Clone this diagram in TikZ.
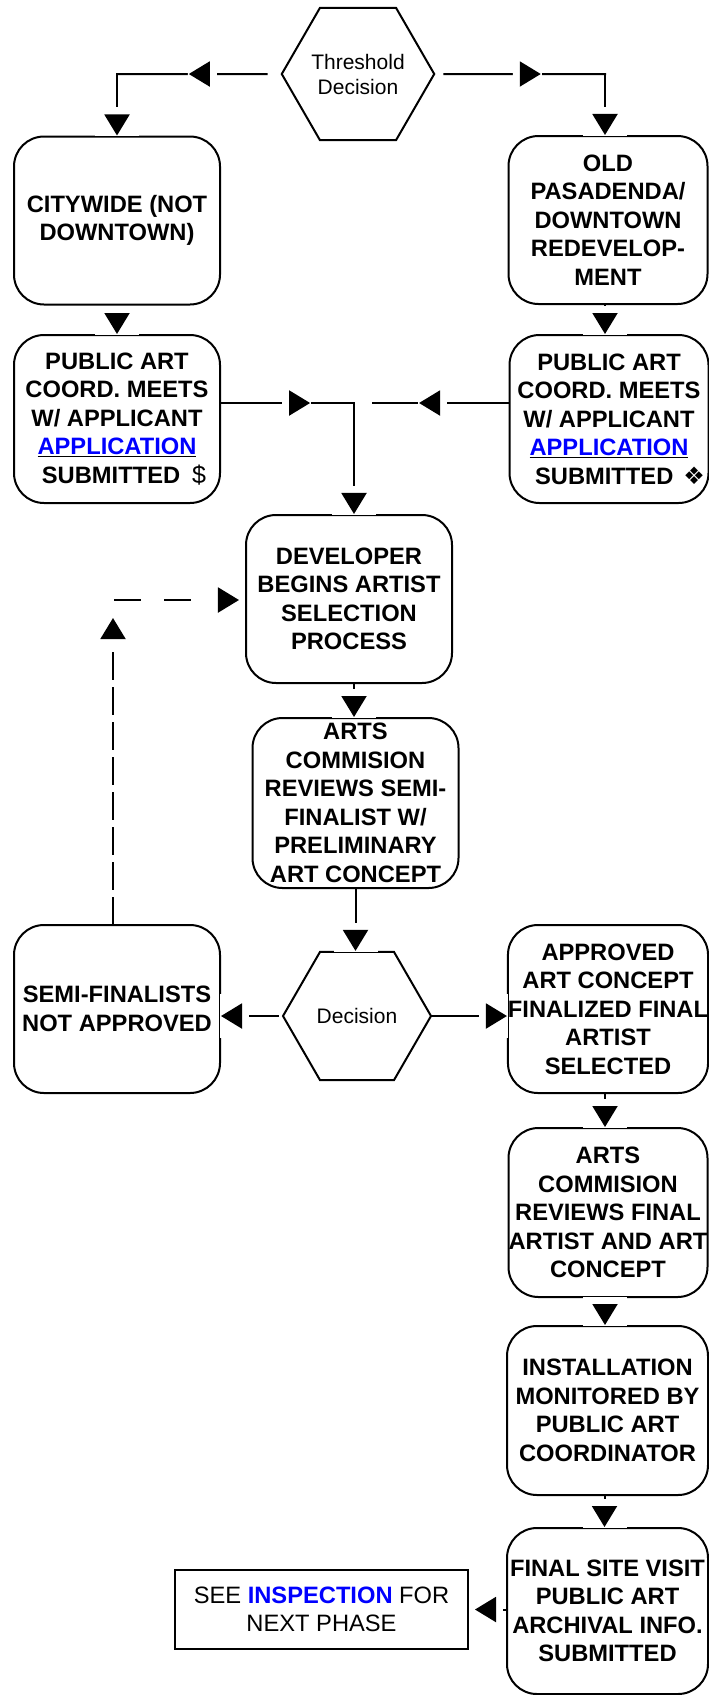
\documentclass[tikz,border=0pt]{standalone}
\usepackage{fontspec}
\setmainfont{Liberation Sans}
\newfontfamily\symfont{DejaVu Sans}
\usetikzlibrary{shapes.geometric,arrows.meta,decorations.markings}
\definecolor{linkblue}{RGB}{0,0,255}
\newcommand{\appl}{\underline{\textcolor{linkblue}{APPLICATION}}}
\tikzset{
  box/.style={draw, line width=2pt, rounded corners=30pt, minimum width=206pt,
    minimum height=168pt, inner sep=0pt, align=center,
    font=\fontsize{23.7}{28.5}\selectfont\bfseries},
  narrow/.style={minimum width=199pt},
  hexa/.style={draw, line width=2pt, regular polygon, regular polygon sides=6,
    minimum size=148pt, inner sep=0pt, align=center,
    font=\fontsize{21}{25}\selectfont},
  link/.style={line width=2pt, line cap=rect},
  tiphalo/.style={postaction={decorate}, decoration={markings,
    mark=at position #1 with {\fill[white] (-28pt,-22pt) rectangle (1pt,22pt);
      \arrow{Triangle[width=25pt,length=21pt]}}}},
  endtip/.style={tiphalo=0.9999},
}
\begin{document}
\begin{tikzpicture}[x=1pt, y=-1pt]
  \useasboundingbox (0,0) rectangle (709,1695);
  % Steps
  \node[hexa] (thresh) at (358,74) {Threshold\\Decision};
  \node[box] (city) at (117,220.5) {CITYWIDE (NOT\\DOWNTOWN)};
  \node[box, narrow] (old) at (608,220) {OLD\\PASADENDA/\\DOWNTOWN\\REDEVELOP-\\MENT};
  \node[box] (pubL) at (117,419) {PUBLIC ART\\COORD. MEETS\\W/ APPLICANT\\\appl\\
    \hspace*{14pt}SUBMITTED\hspace{12pt}{\mdseries\fontsize{25}{25}\selectfont\$}};
  \node[box, narrow] (pubR) at (609,419) {PUBLIC ART\\COORD. MEETS\\W/ APPLICANT\\\appl\\
    \hspace*{22pt}SUBMITTED\hspace{10pt}{\symfont\fontsize{24}{24}\selectfont ❖}};
  \node[box] (dev) at (349,599) {DEVELOPER\\BEGINS ARTIST\\SELECTION\\PROCESS};
  \node[box, minimum height=170pt] (arts) at (355.5,803)
    {ARTS\\COMMISION\\REVIEWS SEMI-\\FINALIST W/\\PRELIMINARY\\ART CONCEPT};
  \node[hexa] (dec) at (357,1016) {Decision};
  \node[box] (semi) at (117,1009) {SEMI-FINALISTS\\NOT APPROVED};
  \node[box, minimum width=200pt] (appr) at (608,1009)
    {APPROVED\\ART CONCEPT\\FINALIZED FINAL\\ARTIST\\SELECTED};
  \node[box, narrow, minimum height=169pt] (fin) at (608,1212.5)
    {ARTS\\COMMISION\\REVIEWS FINAL\\ARTIST AND ART\\CONCEPT};
  \node[box, minimum width=201pt, minimum height=169pt] (inst) at (607.5,1410.5)
    {INSTALLATION\\MONITORED BY\\PUBLIC ART\\COORDINATOR};
  \node[box, minimum width=201pt, minimum height=166pt] (site) at (607.5,1611)
    {FINAL SITE VISIT\\PUBLIC ART\\ARCHIVAL INFO.\\SUBMITTED};
  \node[draw, line width=2pt, minimum width=293pt, minimum height=79pt, inner sep=0pt,
    align=center, font=\fontsize{23.7}{28}\selectfont] (see) at (321.5,1609.5)
    {SEE {\bfseries\color{linkblue}INSPECTION} FOR\\NEXT PHASE};
  % Threshold split
  \coordinate (tl) at (117,74);
  \coordinate (tr) at (605,74);
  \draw[link, tiphalo=0.52] ([xshift=-14pt]thresh.west) -- (tl);
  \draw[link, endtip] (tl) -- (city.north);
  \draw[link, tiphalo=0.6] ([xshift=9pt]thresh.east) -- (tr);
  \draw[link, endtip] (tr) -- (tr |- old.north);
  % Into the selection process
  \coordinate (join) at (354,403);
  \coordinate (joinR) at (373,403);
  \draw[link, endtip] ([yshift=-4pt]city.south) -- (pubL.north);
  \draw[link, tiphalo=0.67] (pubL.east |- join) -- (join);
  \draw[link, tiphalo=0.66] (pubR.west |- joinR) -- (joinR);
  \draw[link, endtip] (join) -- (join |- dev.north);
  \draw[link, endtip] ([xshift=5pt]dev.south) -- ([xshift=5pt]dev.south |- arts.north);
  \draw[link, endtip] (arts.south) -- (arts.south |- dec.north);
  \draw[link, endtip] ([xshift=-4pt]dec.west) -- (dec.west -| semi.east);
  \draw[link, endtip] (dec.east) -- (dec.east -| appr.west);
  % Right column
  \foreach \a/\b in {old/pubR, appr/fin, fin/inst, inst/site}
    \draw[link, endtip] ([xshift=-3pt]\a.south) -- ([xshift=-3pt]\a.south |- \b.north);
  % Back to the artist selection
  \coordinate (backup) at (113,618);
  \coordinate (backleft) at (115,600);
  \draw[link, dash pattern=on 26pt off 9pt, endtip] ([xshift=-4pt]semi.north) -- (backup);
  \draw[link, dash pattern=on 25pt off 25pt, endtip] (backleft) -- ([xshift=-6pt]backleft -| dev.west);
  % Next phase
  \draw[link, endtip] (site.west |- see.east) -- ([xshift=6pt]see.east);
\end{tikzpicture}
\end{document}
